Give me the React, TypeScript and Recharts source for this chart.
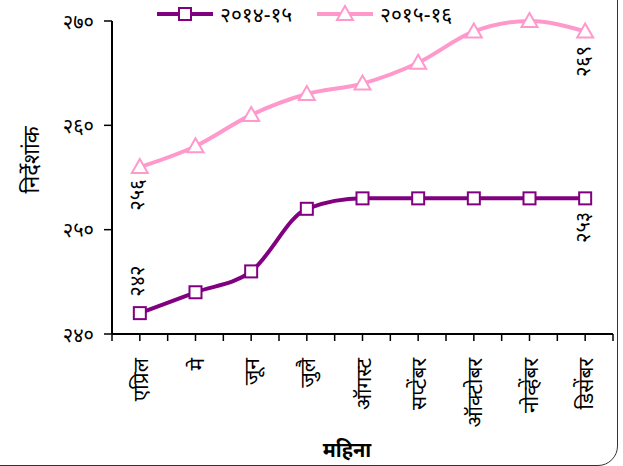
import { LineChart, Line, XAxis, YAxis, Label, LabelList } from "recharts";

const FONT = "'Noto Sans', 'DejaVu Sans', sans-serif";

const months = ["एप्रिल", "मे", "जून", "जुलै", "ऑगस्ट", "सप्टेंबर", "ऑक्टोबर", "नोव्हेंबर", "डिसेंबर"];
const series1415 = [242, 244, 246, 252, 253, 253, 253, 253, 253];
const series1516 = [256, 258, 261, 263, 264, 266, 269, 270, 269];
const yTicks = [240, 250, 260, 270];
const legendNames = ["२०१४-१५", "२०१५-१६"];

const PURPLE = "#800080";
const PINK = "#FF99CC";

const devDigits = "०१२३४५६७८९";
const toDev = (n: number) => String(n).replace(/[0-9]/g, (d) => devDigits[Number(d)]);

// months sit in the middle of each slot, so ticks come at slot edges and centres
const data = months.map((m, i) => ({ x: i + 0.5, month: m, a: series1415[i], b: series1516[i] }));
const xTicks = Array.from({ length: months.length * 2 + 1 }, (_, i) => i / 2);

const MonthTick = (props: any) => {
  const { x, y, payload } = props;
  const v = payload.value;
  if (Math.abs(v - Math.floor(v) - 0.5) > 0.01) return null;
  const name = months[Math.floor(v)];
  return (
    <text
      transform={`translate(${x},${y + 15}) rotate(-90)`}
      textAnchor="end"
      dominantBaseline="central"
      fontSize={21}
      fill="#000"
      fontFamily={FONT}
    >
      {name}
    </text>
  );
};

const YTick = (props: any) => {
  const { x, y, payload } = props;
  return (
    <text x={x - 8} y={y} textAnchor="end" dominantBaseline="central" fontSize={20} fill="#000" fontFamily={FONT}>
      {toDev(payload.value)}
    </text>
  );
};

const Square = (props: any) => {
  const { cx, cy } = props;
  if (cx == null || cy == null) return null;
  return <rect x={cx - 6} y={cy - 6} width={12} height={12} fill="#fff" stroke={PURPLE} strokeWidth={2} />;
};

const Triangle = (props: any) => {
  const { cx, cy } = props;
  if (cx == null || cy == null) return null;
  return (
    <polygon
      points={`${cx},${cy - 8} ${cx - 8},${cy + 6} ${cx + 8},${cy + 6}`}
      fill="#fff"
      stroke={PINK}
      strokeWidth={2}
    />
  );
};

const endLabel = (firstDy: number, lastDy: number) => (props: any) => {
  const { x, y, index, value } = props;
  if (index !== 0 && index !== months.length - 1) return null;
  const dy = index === 0 ? firstDy : lastDy;
  return (
    <text
      transform={`translate(${x - 3},${y + dy}) rotate(-90)`}
      textAnchor="middle"
      dominantBaseline="central"
      fontSize={20}
      fill="#000"
      fontFamily={FONT}
    >
      {toDev(value)}
    </text>
  );
};

const LegendBox = () => (
  <div style={{ position: "absolute", left: 0, top: 0, fontSize: 21, lineHeight: "26px", fontFamily: FONT, color: "#000" }}>
    <svg width={56} height={20} style={{ position: "absolute", left: 157, top: 4 }}>
      <line x1={0} y1={10} x2={56} y2={10} stroke={PURPLE} strokeWidth={4} />
      <rect x={22} y={4} width={12} height={12} fill="#fff" stroke={PURPLE} strokeWidth={2} />
    </svg>
    <span style={{ position: "absolute", left: 220, top: 1, whiteSpace: "nowrap" }}>{legendNames[0]}</span>
    <svg width={56} height={20} style={{ position: "absolute", left: 317, top: 4 }}>
      <line x1={0} y1={10} x2={56} y2={10} stroke={PINK} strokeWidth={4} />
      <polygon points="28,2 20,16 36,16" fill="#fff" stroke={PINK} strokeWidth={2} />
    </svg>
    <span style={{ position: "absolute", left: 380, top: 1, whiteSpace: "nowrap" }}>{legendNames[1]}</span>
  </div>
);

export default function App() {
  return (
    <div
      style={{
        position: "absolute",
        left: 0,
        top: 0,
        width: 623,
        height: 466,
        overflow: "hidden",
        background: "#fff",
        fontFamily: FONT,
      }}
    >
      <div
        style={{
          position: "absolute",
          left: -20,
          top: -20,
          width: 638,
          height: 486,
          border: "1.5px solid #333",
          borderRadius: 20,
          boxSizing: "border-box",
        }}
      />
      <LineChart width={623} height={466} data={data} margin={{ top: 21, right: 10, bottom: 0, left: 8 }}>
        <XAxis
          type="number"
          dataKey="x"
          domain={[0, months.length]}
          ticks={xTicks}
          interval={0}
          tick={<MonthTick />}
          tickSize={7}
          height={132}
          axisLine={{ stroke: "#000", strokeWidth: 2 }}
          tickLine={{ stroke: "#000", strokeWidth: 1.5 }}
        >
          <Label
            content={() => (
              <text x={347} y={457} textAnchor="middle" fontSize={20} fontWeight="bold" fill="#000" fontFamily={FONT}>
                महिना
              </text>
            )}
          />
        </XAxis>
        <YAxis
          type="number"
          domain={[240, 270]}
          ticks={yTicks}
          interval={0}
          width={104}
          tickSize={8}
          tick={<YTick />}
          axisLine={{ stroke: "#000", strokeWidth: 2 }}
          tickLine={{ stroke: "#000", strokeWidth: 1.5 }}
        >
          <Label
            content={() => (
              <text
                transform="translate(30,160) rotate(-90)"
                textAnchor="middle"
                dominantBaseline="central"
                fontSize={22}
                fill="#000"
                fontFamily={FONT}
              >
                निर्देशांक
              </text>
            )}
          />
        </YAxis>
        <Line
          type="monotone"
          dataKey="b"
          stroke={PINK}
          strokeWidth={4}
          dot={<Triangle />}
          activeDot={false}
          isAnimationActive={false}
        >
          <LabelList dataKey="b" content={endLabel(28, 30)} />
        </Line>
        <Line
          type="monotone"
          dataKey="a"
          stroke={PURPLE}
          strokeWidth={4}
          dot={<Square />}
          activeDot={false}
          isAnimationActive={false}
        >
          <LabelList dataKey="a" content={endLabel(-32, 29)} />
        </Line>
      </LineChart>
      <LegendBox />
    </div>
  );
}
